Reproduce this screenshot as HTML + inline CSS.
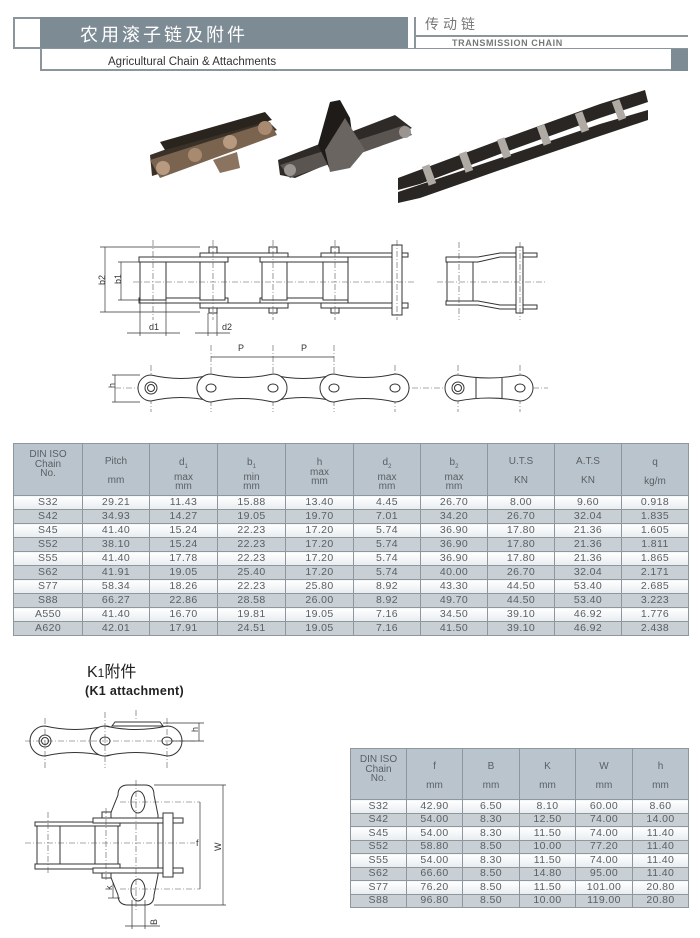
<!DOCTYPE html>
<html><head><meta charset="utf-8"><style>
*{margin:0;padding:0;box-sizing:border-box}
body{width:700px;height:938px;background:#fff;position:relative;overflow:hidden;font-family:"Liberation Sans","Noto Sans CJK SC",sans-serif;color:#555}
.abs{position:absolute}
table{border-collapse:collapse;position:absolute;table-layout:fixed}
td{border:1px solid #8e979e;text-align:center;font-size:10.5px;letter-spacing:0.4px;color:#5a5f63;padding:0;line-height:11px}
tr.h td{background:#bac4cc;vertical-align:top;font-size:10px;letter-spacing:0;line-height:9.5px}
tr.a td{background:linear-gradient(#ffffff,#e8ecef)}
tr.b td{background:#c8d0d6}
</style></head><body>
<!-- header -->
<div class="abs" style="left:13px;top:17px;width:28px;height:32px;border:2px solid #8a959c;border-right:none;background:#fff"></div>
<div class="abs" style="left:40px;top:17px;width:368px;height:32px;background:#7d8b94"></div>
<div class="abs" style="left:80px;top:24px;color:#fff;font-size:18px;letter-spacing:3px;line-height:22px">农用滚子链及附件</div>
<div class="abs" style="left:414px;top:17px;width:2px;height:32px;background:#8a959c"></div>
<div class="abs" style="left:416px;top:35px;width:272px;height:2px;background:#8a959c"></div>
<div class="abs" style="left:425px;top:15px;color:#777;font-size:14px;letter-spacing:4px;line-height:18px">传动链</div>
<div class="abs" style="left:452px;top:38px;color:#777;font-size:9px;font-weight:bold;letter-spacing:0.6px;line-height:10px">TRANSMISSION CHAIN</div>
<div class="abs" style="left:40px;top:48px;width:648px;height:23px;border:2px solid #8a959c;border-top:1px solid #8a959c;background:#fff"></div>
<div class="abs" style="left:671px;top:49px;width:17px;height:22px;background:#7d8b94"></div>
<div class="abs" style="left:108px;top:55px;color:#333;font-size:11.5px;line-height:14px">Agricultural Chain &amp; Attachments</div>

<svg class="abs" style="left:0;top:0" width="700" height="938" viewBox="0 0 700 938">
<!-- photos -->
<g>
<polygon points="150,155 262,115 277,130 165,172 152,176" fill="#3a3128"/>
<polygon points="150,160 270,122 277,135 160,178" fill="#7a6450"/>
<polygon points="160,142 265,112 272,120 165,150" fill="#2a241e"/>
<polygon points="213,160 237,152 240,168 220,173" fill="#8a7460"/>
<circle cx="163" cy="168" r="7" fill="#b89a80"/><circle cx="195" cy="155" r="7" fill="#a88a70"/>
<circle cx="230" cy="142" r="7" fill="#b89a80"/><circle cx="265" cy="128" r="7" fill="#a88a70"/>
<polygon points="278,160 395,115 412,128 295,178 280,175" fill="#2e2a27"/>
<polygon points="280,165 405,125 412,135 290,178" fill="#5a5550"/>
<polygon points="318,145 330,102 340,100 350,118 355,155 330,170" fill="#1e1b19"/>
<polygon points="325,150 345,118 365,150 350,168 330,172" fill="#6a6560"/>
<circle cx="290" cy="170" r="6" fill="#9a9590"/><circle cx="405" cy="132" r="6" fill="#9a9590"/>
<polygon points="398,178 500,140 600,104 645,90 648,102 600,118 500,154 420,184 398,190" fill="#2a2623"/>
<polygon points="398,192 500,158 600,124 648,110 648,120 600,136 500,170 420,198 398,203" fill="#2a2623"/>
<g fill="#b0aaa4">
<rect x="425" y="165" width="8" height="20" transform="rotate(-20 429 175)"/>
<rect x="462" y="152" width="8" height="20" transform="rotate(-20 466 162)"/>
<rect x="500" y="138" width="8" height="20" transform="rotate(-20 504 148)"/>
<rect x="540" y="125" width="8" height="20" transform="rotate(-20 544 135)"/>
<rect x="578" y="112" width="8" height="20" transform="rotate(-20 582 122)"/>
<rect x="615" y="100" width="8" height="20" transform="rotate(-20 619 110)"/>
</g>
</g>
<!-- top view drawing -->
<g fill="#fff" stroke="#333" stroke-width="1">
<rect x="139" y="257" width="89" height="5"/><rect x="139" y="298" width="89" height="5"/>
<rect x="260" y="257" width="88" height="5"/><rect x="260" y="298" width="88" height="5"/>
<rect x="200" y="253" width="88" height="4"/><rect x="200" y="303" width="88" height="5"/>
<rect x="321" y="253" width="87" height="4"/><rect x="321" y="303" width="87" height="5"/>
<rect x="140" y="262" width="26" height="38"/><rect x="200" y="262" width="25" height="38"/>
<rect x="262" y="262" width="25" height="38"/><rect x="323" y="262" width="25" height="38"/>
<rect x="209" y="247" width="8" height="6"/><rect x="269" y="247" width="8" height="6"/><rect x="331" y="247" width="8" height="6"/>
<rect x="209" y="308" width="8" height="5"/><rect x="269" y="308" width="8" height="5"/><rect x="331" y="308" width="8" height="5"/>
<rect x="392" y="245" width="10" height="70"/>
<rect x="447" y="262" width="26" height="39"/>
<path d="M446,257 H478 L500,253 H537 V257 H500 L478,262 H446Z"/>
<path d="M446,301 H478 L500,305 H537 V309 H500 L478,305 H446Z"/>
<rect x="516" y="247" width="7" height="66"/>
</g>
<g stroke="#555" stroke-width="0.6" stroke-dasharray="6,2,1,2" fill="none">
<line x1="133" y1="282" x2="415" y2="282"/><line x1="437" y1="282" x2="547" y2="282"/>
<line x1="153" y1="240" x2="153" y2="320"/><line x1="213" y1="240" x2="213" y2="320"/>
<line x1="273" y1="240" x2="273" y2="320"/><line x1="335" y1="240" x2="335" y2="320"/>
<line x1="397" y1="240" x2="397" y2="320"/><line x1="459" y1="242" x2="459" y2="320"/>
<line x1="520" y1="242" x2="520" y2="320"/>
<line x1="115" y1="388" x2="548" y2="388"/>
<line x1="151" y1="365" x2="151" y2="412"/><line x1="211" y1="345" x2="211" y2="412"/>
<line x1="273" y1="345" x2="273" y2="412"/><line x1="334" y1="345" x2="334" y2="412"/>
<line x1="395" y1="365" x2="395" y2="412"/><line x1="458" y1="365" x2="458" y2="412"/>
<line x1="520" y1="365" x2="520" y2="412"/>
</g>
<g stroke="#333" stroke-width="0.7" fill="none">
<line x1="105" y1="247" x2="105" y2="312"/><line x1="100" y1="247" x2="200" y2="247"/><line x1="100" y1="312" x2="200" y2="312"/>
<line x1="121" y1="262" x2="121" y2="300"/><line x1="118" y1="262" x2="140" y2="262"/><line x1="118" y1="300" x2="140" y2="300"/>
<line x1="140" y1="300" x2="140" y2="336"/><line x1="166" y1="300" x2="166" y2="336"/>
<line x1="127" y1="333" x2="180" y2="333"/>
<line x1="208" y1="313" x2="208" y2="336"/><line x1="217" y1="313" x2="217" y2="336"/>
<line x1="195" y1="333" x2="230" y2="333"/>
<line x1="211" y1="357" x2="334" y2="357"/>
<line x1="115" y1="375" x2="115" y2="402"/><line x1="112" y1="375" x2="140" y2="375"/><line x1="112" y1="402" x2="140" y2="402"/>
</g>
<g fill="#333" font-size="9" font-family="Liberation Sans,sans-serif">
<text x="101" y="289" transform="rotate(-90 101 285)">b2</text>
<text x="117" y="288" transform="rotate(-90 117 284)">b1</text>
<text x="149" y="330">d1</text><text x="222" y="330">d2</text>
<text x="238" y="351">P</text><text x="301" y="351">P</text>
<text x="111" y="392" transform="rotate(-90 111 388)">h</text>
</g>
<g fill="#fff" stroke="#333" stroke-width="1">
<path d="M151,375 Q181,382 211,375 A13,13 0 0 1 211,401 Q181,394 151,401 A13,13 0 0 1 151,375Z"/>
<path d="M273,375 Q303,382 334,375 A13,13 0 0 1 334,401 Q303,394 273,401 A13,13 0 0 1 273,375Z"/>
<path d="M211,374 Q242,381 273,374 A14,14 0 0 1 273,402 Q242,395 211,402 A14,14 0 0 1 211,374Z"/>
<path d="M334,374 Q364,381 395,374 A14,14 0 0 1 395,402 Q364,395 334,402 A14,14 0 0 1 334,374Z"/>
<circle cx="151" cy="388" r="6"/><circle cx="151" cy="388" r="3.5"/>
<ellipse cx="211" cy="388" rx="5" ry="4"/><ellipse cx="273" cy="388" rx="5" ry="4"/>
<ellipse cx="334" cy="388" rx="5" ry="4"/><ellipse cx="395" cy="388" rx="5" ry="4"/>
<path d="M458,375 Q489,381 520,375 A13,13 0 0 1 520,401 Q489,395 458,401 A13,13 0 0 1 458,375Z"/>
<line x1="476" y1="378" x2="476" y2="398"/><line x1="502" y1="378" x2="502" y2="398"/>
<circle cx="458" cy="388" r="6"/><circle cx="458" cy="388" r="3.5"/><ellipse cx="520" cy="388" rx="5" ry="4"/>
</g>
<!-- K1 side -->
<g fill="#fff" stroke="#333" stroke-width="1">
<path d="M115,722 H160 L163,726 H112Z"/>
<path d="M45,726 Q75,733 105,726 A15,15 0 0 1 105,756 Q75,749 45,756 A15,15 0 0 1 45,726Z"/>
<path d="M105,726 Q136,733 167,726 A15,15 0 0 1 167,756 Q136,749 105,756 A15,15 0 0 1 105,726Z"/>
<circle cx="45" cy="741" r="6"/><circle cx="45" cy="741" r="3.5"/>
<ellipse cx="105" cy="741" rx="5" ry="4"/><ellipse cx="167" cy="741" rx="5" ry="4"/>
<path d="M118,795 Q118,785 128,785 H145 Q154,785 154,795 L158,815 V875 L154,895 Q154,905 145,905 H128 Q118,905 118,895 L110,875 V815Z"/>
<rect x="35" y="822" width="85" height="4"/><rect x="35" y="864" width="85" height="5"/>
<rect x="93" y="818" width="90" height="5"/><rect x="93" y="868" width="90" height="5"/>
<rect x="37" y="826" width="23" height="38"/><rect x="95" y="826" width="23" height="38"/>
<rect x="163" y="813" width="10" height="64"/>
<rect x="102" y="812" width="9" height="6"/><rect x="102" y="873" width="9" height="5"/>
<ellipse cx="138" cy="802" rx="7" ry="11"/><ellipse cx="138" cy="890" rx="7" ry="11"/>
</g>
<g stroke="#555" stroke-width="0.6" stroke-dasharray="6,2,1,2" fill="none">
<line x1="25" y1="741" x2="195" y2="741"/><line x1="45" y1="718" x2="45" y2="768"/>
<line x1="105" y1="712" x2="105" y2="768"/><line x1="167" y1="718" x2="167" y2="768"/>
<line x1="136" y1="710" x2="136" y2="720"/>
<line x1="25" y1="843" x2="195" y2="843"/><line x1="48" y1="812" x2="48" y2="875"/>
<line x1="106" y1="808" x2="106" y2="880"/><line x1="136" y1="780" x2="136" y2="910"/>
<line x1="120" y1="802" x2="200" y2="802"/><line x1="120" y1="889" x2="200" y2="889"/>
</g>
<g stroke="#333" stroke-width="0.7" fill="none">
<line x1="163" y1="723" x2="204" y2="723"/><line x1="172" y1="741" x2="204" y2="741"/><line x1="199" y1="723" x2="199" y2="741"/>
<line x1="154" y1="785" x2="226" y2="785"/><line x1="154" y1="905" x2="226" y2="905"/><line x1="223" y1="785" x2="223" y2="905"/>
<line x1="200" y1="802" x2="200" y2="889"/>
<line x1="113" y1="882" x2="113" y2="898"/><line x1="108" y1="898" x2="120" y2="898"/>
<line x1="132" y1="900" x2="132" y2="929"/><line x1="145" y1="900" x2="145" y2="929"/><line x1="125" y1="926" x2="160" y2="926"/>
</g>
<g fill="#333" font-size="9" font-family="Liberation Sans,sans-serif">
<text x="195" y="735" transform="rotate(-90 195 732)">h</text>
<text x="214" y="850" transform="rotate(-90 218 847)">W</text>
<text x="196" y="846">f</text>
<text x="109" y="893" transform="rotate(-90 109 890)">k</text>
<text x="150" y="926" transform="rotate(-90 153 922)">B</text>
</g>
</svg>
<div class="abs" style="left:87px;top:664px;color:#222;font-size:16px;line-height:18px">K<span style="font-size:12px">1</span>附件</div>
<div class="abs" style="left:85px;top:684px;color:#222;font-size:12.5px;font-weight:bold;letter-spacing:0.3px;line-height:14px">(K1 attachment)</div>

<table style="left:13px;top:443px;width:675px">
<colgroup><col style="width:69px"><col style="width:67px"><col style="width:68px"><col style="width:68px"><col style="width:68px"><col style="width:67px"><col style="width:67px"><col style="width:67px"><col style="width:67px"><col style="width:67px"></colgroup>
<tr class="h" style="height:52px"><td style="padding-top:6px">DIN ISO<br>Chain<br>No.</td><td style="padding-top:13px">Pitch<br><br>mm</td><td style="padding-top:14px">d<sub style="font-size:6px">1</sub><br>max<br>mm</td><td style="padding-top:14px">b<sub style="font-size:6px">1</sub><br>min<br>mm</td><td style="padding-top:14px">h<br>max<br>mm</td><td style="padding-top:14px">d<sub style="font-size:6px">2</sub><br>max<br>mm</td><td style="padding-top:14px">b<sub style="font-size:6px">2</sub><br>max<br>mm</td><td style="padding-top:13px">U.T.S<br><br>KN</td><td style="padding-top:13px">A.T.S<br><br>KN</td><td style="padding-top:14px">q<br><br>kg/m</td></tr>
<tr class="a" style="height:14px"><td>S32</td><td>29.21</td><td>11.43</td><td>15.88</td><td>13.40</td><td>4.45</td><td>26.70</td><td>8.00</td><td>9.60</td><td>0.918</td></tr>
<tr class="b" style="height:14px"><td>S42</td><td>34.93</td><td>14.27</td><td>19.05</td><td>19.70</td><td>7.01</td><td>34.20</td><td>26.70</td><td>32.04</td><td>1.835</td></tr>
<tr class="a" style="height:14px"><td>S45</td><td>41.40</td><td>15.24</td><td>22.23</td><td>17.20</td><td>5.74</td><td>36.90</td><td>17.80</td><td>21.36</td><td>1.605</td></tr>
<tr class="b" style="height:14px"><td>S52</td><td>38.10</td><td>15.24</td><td>22.23</td><td>17.20</td><td>5.74</td><td>36.90</td><td>17.80</td><td>21.36</td><td>1.811</td></tr>
<tr class="a" style="height:14px"><td>S55</td><td>41.40</td><td>17.78</td><td>22.23</td><td>17.20</td><td>5.74</td><td>36.90</td><td>17.80</td><td>21.36</td><td>1.865</td></tr>
<tr class="b" style="height:14px"><td>S62</td><td>41.91</td><td>19.05</td><td>25.40</td><td>17.20</td><td>5.74</td><td>40.00</td><td>26.70</td><td>32.04</td><td>2.171</td></tr>
<tr class="a" style="height:14px"><td>S77</td><td>58.34</td><td>18.26</td><td>22.23</td><td>25.80</td><td>8.92</td><td>43.30</td><td>44.50</td><td>53.40</td><td>2.685</td></tr>
<tr class="b" style="height:14px"><td>S88</td><td>66.27</td><td>22.86</td><td>28.58</td><td>26.00</td><td>8.92</td><td>49.70</td><td>44.50</td><td>53.40</td><td>3.223</td></tr>
<tr class="a" style="height:14px"><td>A550</td><td>41.40</td><td>16.70</td><td>19.81</td><td>19.05</td><td>7.16</td><td>34.50</td><td>39.10</td><td>46.92</td><td>1.776</td></tr>
<tr class="b" style="height:14px"><td>A620</td><td>42.01</td><td>17.91</td><td>24.51</td><td>19.05</td><td>7.16</td><td>41.50</td><td>39.10</td><td>46.92</td><td>2.438</td></tr>
</table>

<table style="left:350px;top:748px;width:338px">
<colgroup><col style="width:56px"><col style="width:56px"><col style="width:57px"><col style="width:56px"><col style="width:57px"><col style="width:56px"></colgroup>
<tr class="h" style="height:51px"><td style="padding-top:6px">DIN ISO<br>Chain<br>No.</td><td style="padding-top:13px">f<br><br>mm</td><td style="padding-top:13px">B<br><br>mm</td><td style="padding-top:13px">K<br><br>mm</td><td style="padding-top:13px">W<br><br>mm</td><td style="padding-top:13px">h<br><br>mm</td></tr>
<tr class="a" style="height:13.5px"><td>S32</td><td>42.90</td><td>6.50</td><td>8.10</td><td>60.00</td><td>8.60</td></tr>
<tr class="b" style="height:13.5px"><td>S42</td><td>54.00</td><td>8.30</td><td>12.50</td><td>74.00</td><td>14.00</td></tr>
<tr class="a" style="height:13.5px"><td>S45</td><td>54.00</td><td>8.30</td><td>11.50</td><td>74.00</td><td>11.40</td></tr>
<tr class="b" style="height:13.5px"><td>S52</td><td>58.80</td><td>8.50</td><td>10.00</td><td>77.20</td><td>11.40</td></tr>
<tr class="a" style="height:13.5px"><td>S55</td><td>54.00</td><td>8.30</td><td>11.50</td><td>74.00</td><td>11.40</td></tr>
<tr class="b" style="height:13.5px"><td>S62</td><td>66.60</td><td>8.50</td><td>14.80</td><td>95.00</td><td>11.40</td></tr>
<tr class="a" style="height:13.5px"><td>S77</td><td>76.20</td><td>8.50</td><td>11.50</td><td>101.00</td><td>20.80</td></tr>
<tr class="b" style="height:13.5px"><td>S88</td><td>96.80</td><td>8.50</td><td>10.00</td><td>119.00</td><td>20.80</td></tr>
</table>
</body></html>
